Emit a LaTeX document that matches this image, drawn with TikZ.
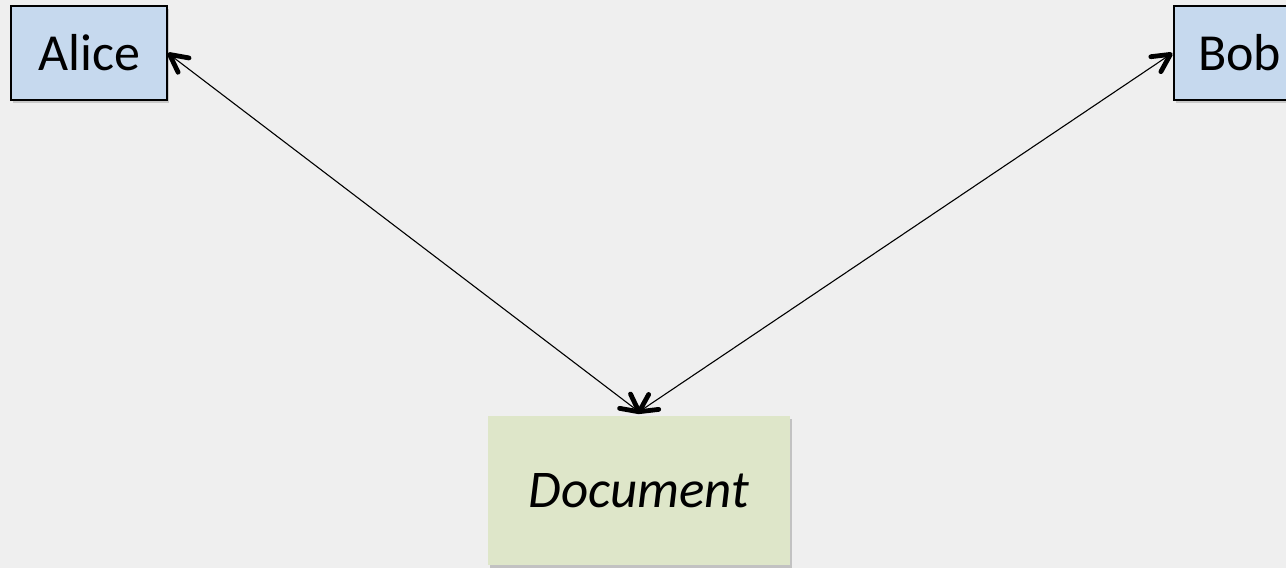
\documentclass[tikz,border=0pt]{standalone}
\usepackage{fontspec}
\setmainfont{Carlito}
\usetikzlibrary{shadows,decorations.markings}
\definecolor{bg}{RGB}{239,239,239}
\definecolor{personblue}{RGB}{198,217,238}
\definecolor{docgreen}{RGB}{222,230,201}
\tikzset{
  person/.style={draw=black, line width=1.2pt, fill=personblue, minimum height=94pt, inner sep=0pt,
    font=\fontsize{52}{58}\selectfont, drop shadow={shadow xshift=2pt, shadow yshift=-3pt, opacity=0.35}},
  docbox/.style={fill=docgreen, minimum width=302pt, minimum height=149pt, inner sep=0pt,
    font=\itshape\fontsize{53}{60}\selectfont, drop shadow={shadow xshift=2pt, shadow yshift=-3pt, opacity=0.4}},
  barbs/.style={line width=4.8pt, line cap=round, line join=round},
  link/.style={line width=1.1pt, postaction={decorate, decoration={markings,
    mark=at position 0 with {\draw[barbs] (17.5pt,9pt) -- (0pt,0pt) -- (17.5pt,-9pt);},
    mark=at position 1 with {\draw[barbs] (-17.5pt,9pt) -- (0pt,0pt) -- (-17.5pt,-9pt);}}}}
}
\begin{document}
\begin{tikzpicture}[x=1pt,y=-1pt]
\fill[bg] (0,0) rectangle (1286,568);
\useasboundingbox (0,0) rectangle (1286,568);
\node[person, minimum width=156pt] (alice) at (89,53) {Alice};
\node[person, minimum width=140pt, text width=130pt, align=left] (bob) at (1244,53) {\hspace{19pt}Bob};
\node[docbox] (doc) at (639,490.5) {Document};
\draw[link] ([xshift=2pt,yshift=-1.5pt]alice.east) -- ([yshift=4pt]doc.north);
\draw[link] ([xshift=-3pt,yshift=-1.4pt]bob.west) -- ([yshift=4pt]doc.north);
\end{tikzpicture}
\end{document}
